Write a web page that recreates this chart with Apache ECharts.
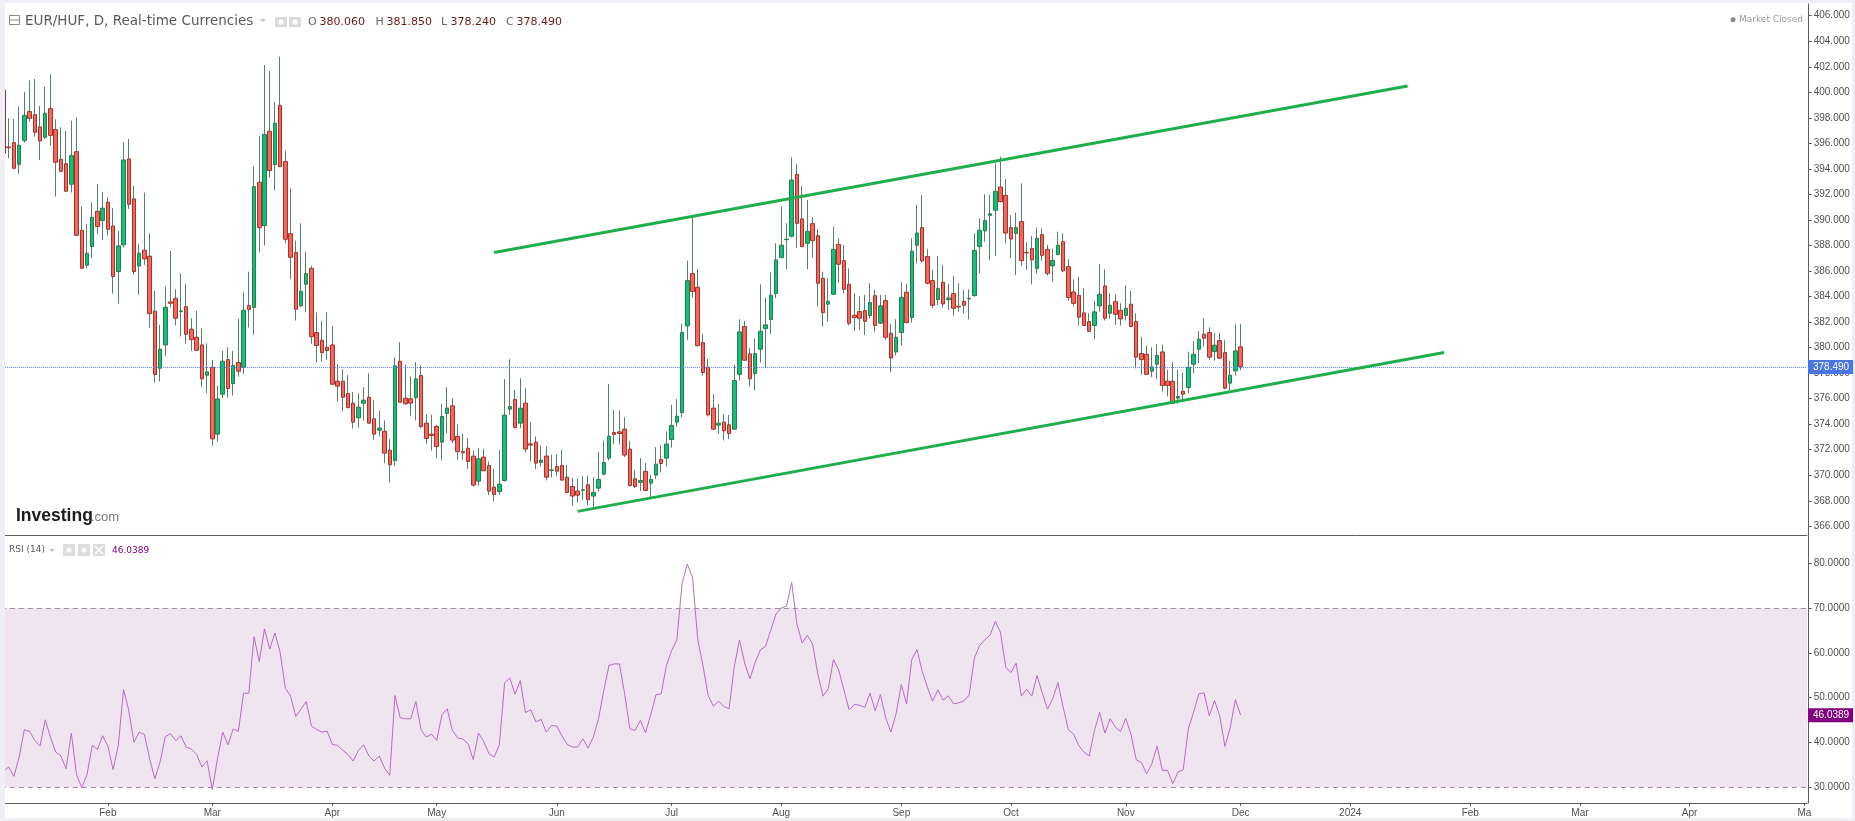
<!DOCTYPE html>
<html>
<head>
    <meta charset="utf-8">
    <title>EUR/HUF</title>
    <script src="https://cdn.jsdelivr.net/npm/echarts@6/dist/echarts.min.js"></script>
    <style>
        html, body { margin: 0; padding: 0; overflow: hidden; background: #eef0f5; }
        #paper { position: absolute; left: 5px; top: 3px; width: 1847px; height: 815px; background: #fff; }
        #chart { position: absolute; left: 0; top: 0; width: 1855px; height: 821px; }
        #gutter { position: absolute; left: 0; top: 0; width: 5px; height: 821px; background: #eef0f5; }
    </style>
</head>
<body>
<div id="paper"></div>
<div id="chart"></div>
<div id="gutter"></div>
<script type="text/javascript">
    // daily bars, oldest first
    var opens = [
        400.18,395.72,396.06,394.36,396.22,398.49,398.25,397.29,396.48,398.72,
        397.08,394.75,394.41,392.80,395.35,389.19,386.45,387.92,390.68,389.95,
        391.39,389.53,385.96,388.05,394.78,391.65,386.40,387.63,387.16,382.85,
        378.38,380.21,383.58,383.87,382.82,383.21,381.44,380.81,380.21,377.84,
        378.46,373.22,376.35,379.06,377.18,378.83,378.46,383.29,383.14,392.95,
        389.56,396.95,394.34,398.98,394.57,388.93,387.45,383.27,384.96,386.21,
        381.18,380.58,380.03,380.21,377.37,377.37,376.40,375.64,374.50,375.64,
        376.11,374.42,373.53,373.45,371.96,371.15,378.93,376.04,375.99,376.07,
        377.81,374.08,373.22,373.82,372.59,374.84,375.44,373.04,371.86,372.12,
        371.50,369.54,371.42,370.77,369.07,368.73,369.59,375.18,375.94,374.08,
        375.65,372.46,372.59,371.00,371.50,370.38,370.69,370.77,369.85,369.12,
        368.76,368.82,369.25,368.37,368.99,370.09,371.34,373.35,373.40,373.61,
        372.05,369.72,369.44,370.30,369.38,370.01,371.24,371.34,372.80,374.16,
        374.91,381.70,385.80,384.73,380.39,378.46,375.26,373.93,374.16,373.95,
        373.61,377.91,381.65,379.51,377.97,379.87,381.49,382.20,384.23,387.05,
        388.46,388.72,393.57,390.08,388.17,389.71,388.77,385.43,383.40,384.18,
        388.09,386.81,384.96,382.53,382.82,382.90,382.51,384.07,381.91,383.68,
        381.12,379.66,381.18,384.34,382.35,388.02,389.40,387.13,385.25,383.76,
        385.12,383.76,384.23,383.24,383.63,383.82,384.07,387.91,389.14,390.36,
        390.76,392.58,391.93,389.40,388.95,389.87,387.46,387.75,386.21,388.85,
        387.70,386.40,387.28,388.30,386.34,384.36,384.10,382.72,382.04,381.73,
        383.27,384.83,382.69,383.60,382.93,382.51,383.40,382.04,379.53,379.48,
        378.15,378.70,379.66,377.37,377.37,376.04,376.58,376.87,378.70,379.87,
        381.05,381.18,379.69,380.55,379.61,377.21,378.18,380.06
    ];
    var closes = [
        395.22,395.66,394.05,395.85,398.20,397.96,396.87,396.19,398.36,396.63,
        394.52,393.81,392.25,395.04,388.80,386.22,387.39,390.21,389.48,390.92,
        389.27,385.57,387.97,394.70,391.23,385.96,387.39,386.95,382.67,377.89,
        379.87,383.16,383.47,382.30,382.88,381.05,380.63,379.79,377.55,378.10,
        372.85,375.98,378.93,376.79,378.59,378.15,382.93,382.98,392.61,389.40,
        396.69,393.87,397.57,394.18,388.49,387.08,383.01,384.41,385.80,380.86,
        380.16,379.61,379.77,377.13,376.98,376.11,375.30,374.16,375.33,375.88,
        374.08,373.22,373.69,371.73,370.82,378.57,375.72,375.60,375.65,377.55,
        373.82,372.88,373.12,372.25,374.60,375.26,372.75,371.86,371.76,371.08,
        369.23,371.29,370.35,368.76,368.50,369.31,374.71,375.39,373.74,375.26,
        372.05,372.36,370.95,371.18,369.85,370.42,370.32,369.62,368.65,368.37,
        368.44,368.86,368.08,368.65,369.67,371.00,373.06,373.19,373.27,371.58,
        369.20,369.12,369.59,368.81,369.67,370.87,370.92,372.44,373.90,374.63,
        381.18,385.25,384.39,380.16,378.05,374.73,373.61,374.08,373.48,373.27,
        377.42,381.23,379.01,377.55,379.53,381.28,381.78,384.10,386.87,388.02,
        388.50,393.13,389.74,387.91,389.11,388.38,385.04,382.74,383.63,387.70,
        386.53,384.57,381.91,382.35,382.30,382.06,383.53,381.73,383.27,380.81,
        379.19,380.81,383.94,381.96,387.55,388.98,386.79,385.04,383.32,384.62,
        383.42,383.89,383.08,383.19,383.32,383.86,387.62,389.19,389.95,390.49,
        392.24,391.43,388.98,388.51,389.40,386.81,387.42,386.87,388.56,387.23,
        385.82,386.84,388.02,386.01,383.92,383.47,382.38,381.73,381.28,382.80,
        384.18,382.30,383.32,382.61,382.25,383.08,381.65,379.25,379.06,377.91,
        378.49,379.38,377.03,377.03,375.64,376.17,376.35,378.46,379.48,380.66,
        380.73,379.25,380.19,379.17,376.82,377.84,379.74,378.49
    ];
    var highs = [
        400.18,397.96,397.91,398.88,400.03,400.94,401.04,398.93,400.44,401.41,
        397.89,397.26,396.97,397.78,398.04,391.05,389.69,391.39,392.82,392.17,
        391.78,390.92,389.14,396.09,396.35,392.69,388.10,392.14,388.96,384.44,
        381.78,384.78,387.57,384.57,385.82,384.99,382.30,382.87,381.52,380.34,
        379.04,377.03,379.74,380.03,379.74,382.25,384.31,385.95,394.18,396.58,
        402.14,401.67,399.24,402.79,395.41,392.48,388.39,389.74,387.52,386.42,
        382.74,382.09,382.77,381.70,378.70,378.31,377.84,376.51,376.43,376.90,
        377.99,375.88,375.04,374.29,372.83,379.25,380.42,378.65,377.74,378.86,
        378.60,374.79,374.73,373.95,375.60,376.90,376.04,373.98,373.25,372.91,
        371.92,372.12,372.07,371.08,370.51,371.99,377.53,379.09,376.69,377.61,
        376.82,374.16,373.04,372.33,372.25,371.60,371.65,371.99,370.82,369.78,
        369.75,369.91,369.96,369.83,371.81,372.70,377.16,375.13,375.07,374.55,
        372.70,370.38,371.34,370.95,370.04,372.20,372.36,373.43,375.52,375.96,
        381.86,386.81,390.34,386.14,381.05,379.12,376.35,375.60,374.79,374.73,
        378.65,382.22,382.09,379.95,380.71,384.96,383.92,385.88,388.17,391.04,
        389.74,394.91,394.38,392.66,391.56,390.21,389.27,385.95,385.43,389.48,
        388.56,388.04,386.21,384.26,384.00,384.13,385.04,384.52,384.13,384.13,
        381.86,382.22,385.12,384.99,388.56,391.17,391.96,387.73,386.08,387.18,
        386.48,384.99,385.61,385.04,384.52,384.57,388.95,390.13,392.01,391.96,
        394.44,394.96,393.21,390.39,390.57,392.87,388.25,388.75,389.42,389.32,
        388.04,387.73,389.09,388.95,386.92,385.35,385.54,384.65,382.69,383.66,
        386.55,386.14,384.26,384.20,383.47,384.88,384.44,382.69,380.84,380.16,
        380.03,380.26,380.24,378.25,378.88,378.25,378.05,379.69,380.52,381.31,
        382.30,381.59,381.12,381.15,380.58,378.96,381.80,381.85
    ];
    var lows = [
        395.09,394.83,393.97,393.61,396.06,397.70,396.53,394.70,396.32,395.82,
        391.83,393.79,392.22,392.14,388.75,386.20,386.22,387.00,388.91,388.44,
        388.78,384.24,383.45,387.86,390.87,385.70,384.13,386.48,381.57,377.26,
        377.34,379.35,383.13,381.73,380.86,380.29,379.74,379.74,376.90,376.43,
        372.33,372.62,376.04,376.09,376.24,377.73,377.94,381.57,381.00,387.47,
        387.99,393.32,392.30,394.13,388.18,385.36,382.12,383.21,382.77,380.29,
        378.83,378.91,379.04,377.08,375.77,375.02,375.23,373.66,373.74,374.29,
        374.03,372.77,373.03,370.95,369.43,370.74,375.70,375.52,374.66,374.29,
        373.69,372.46,371.94,371.34,371.16,373.30,372.52,371.21,371.21,370.51,
        369.12,369.18,370.33,368.44,367.95,368.47,369.51,374.73,373.66,373.69,
        371.79,371.08,370.48,370.69,369.59,369.83,369.91,369.59,368.60,367.61,
        367.87,368.08,367.64,367.50,368.73,369.98,371.16,372.46,372.41,371.42,
        369.12,368.99,368.76,368.78,368.21,369.70,370.22,370.69,372.18,373.82,
        374.55,380.60,383.92,380.08,377.81,374.60,373.56,373.25,372.72,372.83,
        373.56,377.42,378.98,376.95,376.64,378.83,378.38,381.07,383.87,387.00,
        386.14,388.64,387.83,387.86,386.14,387.05,383.21,381.65,382.04,384.13,
        385.09,384.26,381.73,381.31,381.36,380.99,382.30,381.26,381.86,380.60,
        378.07,379.38,380.16,381.91,381.96,386.61,386.68,384.96,383.08,383.34,
        383.13,382.95,382.51,382.82,382.69,382.22,384.00,385.82,388.30,386.87,
        387.18,391.38,388.17,387.00,385.69,386.42,386.08,384.96,385.77,386.81,
        385.64,385.17,387.26,385.90,383.68,383.21,381.73,381.70,381.23,380.66,
        382.82,382.12,382.25,381.78,381.73,382.12,381.60,378.38,377.86,377.86,
        377.68,377.55,376.56,376.17,375.59,375.59,375.90,376.43,377.99,378.78,
        380.08,379.04,378.98,379.12,376.74,376.64,377.81,378.24
    ];
    var rsiValues = [
        33.57,34.46,32.38,36.69,42.79,42.42,40.41,39.15,45.02,41.15,
        37.81,36.92,34.09,42.05,32.75,29.85,32.75,39.29,38.40,41.45,
        39.15,33.87,39.29,51.79,47.10,39.96,42.27,41.75,36.32,31.86,
        35.58,41.23,41.90,40.34,41.45,38.92,38.48,37.29,34.46,35.87,
        29.41,36.32,42.27,39.44,42.94,42.42,50.97,50.97,63.61,58.03,
        65.32,60.86,64.42,60.11,52.08,50.30,45.76,47.40,49.11,43.61,
        42.86,42.27,42.49,39.52,39.29,38.18,37.29,35.80,38.18,39.44,
        36.92,35.80,36.92,34.24,32.60,50.45,45.47,45.24,45.24,49.11,
        42.79,41.15,41.82,40.41,46.13,47.47,42.64,41.00,40.71,39.67,
        36.10,42.05,40.19,37.44,36.69,39.44,53.27,54.39,50.74,53.79,
        46.65,47.25,44.57,45.09,42.27,43.76,43.61,41.38,39.52,38.92,
        38.92,40.78,38.70,41.15,45.24,51.56,57.14,57.51,57.51,50.82,
        43.01,42.64,44.87,42.12,46.13,50.60,50.82,57.14,60.48,62.86,
        75.50,79.81,76.84,63.09,57.14,50.45,48.07,49.18,47.99,47.47,
        56.92,62.86,57.66,54.16,57.88,60.63,61.45,65.09,68.66,70.00,
        70.45,75.73,66.43,62.19,63.90,61.97,55.28,50.30,51.93,58.48,
        56.17,51.71,47.25,48.44,48.29,47.77,50.97,47.03,50.67,45.47,
        42.27,46.36,52.90,48.59,58.48,60.71,55.87,52.31,49.18,51.71,
        49.41,50.37,48.59,48.81,49.26,50.52,58.85,61.60,62.94,63.90,
        67.03,64.57,56.77,55.58,57.66,50.30,51.86,50.30,54.91,51.04,
        47.40,49.70,53.35,47.84,42.79,41.82,39.29,37.81,36.92,42.64,
        46.65,42.05,45.24,43.38,42.42,45.32,41.75,36.10,35.43,32.97,
        35.20,39.15,33.72,33.72,30.74,33.35,33.87,43.09,46.73,50.82,
        51.04,45.91,49.33,45.91,39.07,43.23,49.55,46.04
    ];

    // the time axis runs on past the last bar
    var slotCount = 346;
    var monthSlots = [20, 40, 63, 83, 106, 128, 149, 172, 193, 215, 237, 258, 281, 302, 323, 345];
    var monthNames = ['Feb', 'Mar', 'Apr', 'May', 'Jun', 'Jul', 'Aug', 'Sep', 'Oct', 'Nov', 'Dec', '2024', 'Feb', 'Mar', 'Apr', 'Ma'];

    var priceTicks = [366, 368, 370, 372, 374, 376, 378, 380, 382, 384, 386, 388, 390, 392, 394, 396, 398, 400, 402, 404, 406];
    var rsiTicks = [30, 40, 50, 60, 70, 80];
    var lastClose = 378.49;
    var lastRsi = 46.0389;
    var rsiBand = [30, 70];

    // trend channel: [slot, price] at both ends
    var upperTrend = [[94, 387.45], [269, 400.5]];
    var lowerTrend = [[110, 367.17], [276, 379.61]];

    var categories = [];
    for (var s = 0; s < slotCount; s++) {
        var m = monthSlots.indexOf(s);
        categories.push(m >= 0 ? monthNames[m] : '');
    }
    var isMonthSlot = function (index) { return monthSlots.indexOf(index) >= 0; };

    var wickData = [], bodyData = [];
    for (var i = 0; i < opens.length; i++) {
        wickData.push([opens[i], closes[i], lows[i], highs[i]]);
        bodyData.push([opens[i], closes[i], Math.min(opens[i], closes[i]), Math.max(opens[i], closes[i])]);
    }

    var axisGrey = '#5c5c5c';
    var labelGrey = '#505050';
    var headFont = '"DejaVu Sans"';

    function label(text, x, y, fill, font) {
        return { type: 'text', silent: true, style: { text: text, x: x, y: y, fill: fill, font: font, verticalAlign: 'middle' } };
    }
    function square(x, y, w, h) {
        return { type: 'rect', silent: true, shape: { x: x, y: y, width: w, height: h }, style: { fill: '#dcdcdc' } };
    }
    function dot(x, y, r, fill) {
        return { type: 'circle', silent: true, shape: { cx: x, cy: y, r: r }, style: { fill: fill } };
    }
    function caret(x, y) {
        return { type: 'polygon', silent: true, shape: { points: [[x, y], [x + 6, y], [x + 3, y + 3]] }, style: { fill: '#c4c4c4' } };
    }

    var ohlcDark = '#6a1a14';
    var header = [
        { type: 'rect', silent: true, shape: { x: 9.5, y: 15.5, width: 10, height: 9 }, style: { fill: '#fff', stroke: '#888', lineWidth: 1 } },
        { type: 'line', silent: true, shape: { x1: 10, y1: 20, x2: 19, y2: 20 }, style: { stroke: '#888', lineWidth: 1 } },
        label('EUR/HUF, D, Real-time Currencies', 25, 21, '#5a5a5a', '13.5px ' + headFont),
        caret(260, 19),
        square(275, 17, 12, 10), dot(281, 22, 2.5, '#fff'),
        square(289, 17, 12, 10), dot(295, 22, 2.5, '#fff'),
        label('O', 308, 22, '#666', '11px ' + headFont),
        label('380.060', 319.5, 22, ohlcDark, '11px ' + headFont),
        label('H', 375.5, 22, '#666', '11px ' + headFont),
        label('381.850', 386.5, 22, ohlcDark, '11px ' + headFont),
        label('L', 441, 22, '#666', '11px ' + headFont),
        label('378.240', 450.5, 22, ohlcDark, '11px ' + headFont),
        label('C', 506, 22, '#666', '11px ' + headFont),
        label('378.490', 516.5, 22, ohlcDark, '11px ' + headFont),
        dot(1733, 19.7, 2.5, '#8a8a8a'),
        label('Market Closed', 1739, 20, '#9a9a9a', '9px ' + headFont),
        label('Investing', 16, 516, '#1c1c1c', 'bold 17.5px "Liberation Sans"'),
        label('.com', 91, 517, '#777', '13px "Liberation Sans"'),
        label('RSI (14)', 9, 550, '#5a5a5a', '9px ' + headFont),
        caret(49, 549),
        square(63, 544, 12, 12), dot(69, 550, 2.5, '#fff'),
        square(78, 544, 12, 12), dot(84, 550, 2.5, '#fff'),
        square(93, 544, 12, 12),
        { type: 'line', silent: true, shape: { x1: 95, y1: 546, x2: 103, y2: 554 }, style: { stroke: '#fff', lineWidth: 1.5 } },
        { type: 'line', silent: true, shape: { x1: 103, y1: 546, x2: 95, y2: 554 }, style: { stroke: '#fff', lineWidth: 1.5 } },
        label('46.0389', 112, 551, '#800080', '9px ' + headFont)
    ];

    var valueAxisBase = {
        type: 'value',
        position: 'right',
        offset: 1.7,
        scale: true,
        splitLine: { show: false },
        axisLine: { show: true, lineStyle: { color: axisGrey, width: 1 } },
        axisTick: { show: true, length: 3, inside: false, lineStyle: { color: axisGrey } }
    };

    var myChart = echarts.init(document.getElementById('chart'));
    myChart.setOption({
        animation: false,
        backgroundColor: 'transparent',
        graphic: { elements: header },
        grid: [
            { left: 0.86, top: 4, width: 1806.12, height: 531.3 },
            { left: 0.86, top: 536, width: 1806.12, height: 267 }
        ],
        xAxis: [
            {
                type: 'category', gridIndex: 0, data: categories, boundaryGap: true,
                axisLine: { show: true, onZero: false, lineStyle: { color: axisGrey, width: 1 } },
                axisTick: { show: false }, axisLabel: { show: false }, splitLine: { show: false }
            },
            {
                type: 'category', gridIndex: 1, data: categories, boundaryGap: true,
                axisLine: { show: true, onZero: false, lineStyle: { color: axisGrey, width: 1 } },
                axisTick: { show: true, alignWithLabel: true, length: 3, interval: isMonthSlot, lineStyle: { color: axisGrey } },
                axisLabel: { show: true, interval: isMonthSlot, margin: 5, color: labelGrey, fontFamily: 'Liberation Sans', fontSize: 10, hideOverlap: false },
                splitLine: { show: false }
            }
        ],
        yAxis: [
            Object.assign({}, valueAxisBase, {
                gridIndex: 0, min: 365.295, max: 406.92,
                axisTick: Object.assign({}, valueAxisBase.axisTick, { customValues: priceTicks }),
                axisLabel: {
                    customValues: priceTicks, margin: 5, color: labelGrey, fontFamily: 'Liberation Sans', fontSize: 10,
                    formatter: function (v) { return v.toFixed(3); }
                }
            }),
            Object.assign({}, valueAxisBase, {
                gridIndex: 1, min: 26.42, max: 86.1,
                axisTick: Object.assign({}, valueAxisBase.axisTick, { customValues: rsiTicks }),
                axisLabel: {
                    customValues: rsiTicks, margin: 5, color: labelGrey, fontFamily: 'Liberation Sans', fontSize: 10,
                    formatter: function (v) { return v.toFixed(4); }
                }
            })
        ],
        series: [
            {
                // wicks are a different colour from the body outline, so they get their own layer
                name: 'wicks', type: 'candlestick', xAxisIndex: 0, yAxisIndex: 0, data: wickData, barWidth: 1, z: 2,
                itemStyle: { color: '#55806a', color0: '#55806a', borderColor: '#55806a', borderColor0: '#55806a', borderWidth: 1 },
                markLine: {
                    silent: true, symbol: 'none', animation: false,
                    lineStyle: { color: '#5b82ee', type: 'dotted', width: 1 },
                    label: {
                        show: true, position: 'end', distance: 1, formatter: lastClose.toFixed(3), color: '#fff',
                        backgroundColor: '#4a74e0', padding: [2, 4, 2, 5], fontFamily: 'Liberation Sans', fontSize: 10
                    },
                    data: [{ yAxis: lastClose }]
                }
            },
            {
                name: 'bodies', type: 'candlestick', xAxisIndex: 0, yAxisIndex: 0, data: bodyData, barWidth: 4, z: 3,
                itemStyle: { color: '#0ec177', color0: '#f6655c', borderColor: '#2a7a50', borderColor0: '#a0352c', borderWidth: 1 }
            },
            {
                name: 'channel', type: 'line', xAxisIndex: 0, yAxisIndex: 0, data: [], z: 4,
                markLine: {
                    silent: true, symbol: 'none', animation: false, label: { show: false },
                    lineStyle: { color: '#1fae4b', type: 'solid', width: 3 },
                    data: [
                        [{ coord: upperTrend[0] }, { coord: upperTrend[1] }],
                        [{ coord: lowerTrend[0] }, { coord: lowerTrend[1] }]
                    ]
                }
            },
            {
                name: 'RSI', type: 'line', xAxisIndex: 1, yAxisIndex: 1, data: rsiValues, z: 3,
                symbol: 'none', smooth: false, lineStyle: { color: '#b86cc4', width: 1 },
                markArea: {
                    silent: true, itemStyle: { color: '#f0e4f1' },
                    data: [[{ yAxis: rsiBand[0] }, { yAxis: rsiBand[1] }]]
                },
                markLine: {
                    silent: true, symbol: 'none', animation: false,
                    lineStyle: { color: '#a68ba6', type: [5, 4], width: 1 },
                    label: { show: false },
                    data: [
                        { yAxis: rsiBand[0] }, { yAxis: rsiBand[1] },
                        {
                            yAxis: lastRsi, lineStyle: { color: 'rgba(0,0,0,0)', width: 0 },
                            label: {
                                show: true, position: 'end', distance: 1, formatter: lastRsi.toFixed(4), color: '#fff',
                                backgroundColor: '#800080', padding: [2, 4, 2, 5], fontFamily: 'Liberation Sans', fontSize: 10
                            }
                        }
                    ]
                }
            }
        ]
    });
</script>
</body>
</html>
